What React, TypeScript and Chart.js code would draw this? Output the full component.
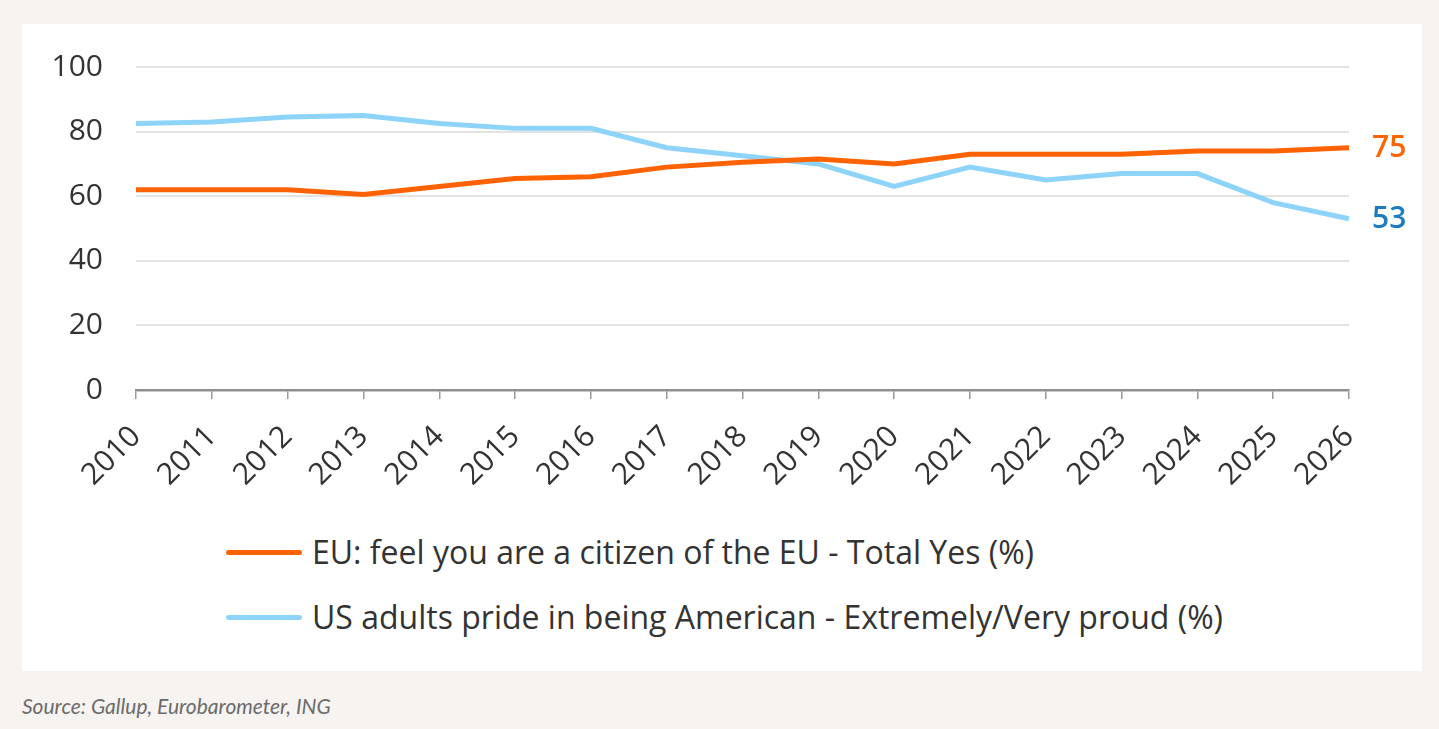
import React, { useEffect, useRef } from "react";
import { Chart, registerables } from "chart.js";

Chart.register(...registerables);

const years = ["2010","2011","2012","2013","2014","2015","2016","2017","2018","2019","2020","2021","2022","2023","2024","2025","2026"];
const euCitizen = [62, 62, 62, 60.5, 63, 65.5, 66, 69, 70.5, 71.5, 70, 73, 73, 73, 74, 74, 75];
const usPride = [82.5, 83, 84.5, 85, 82.5, 81, 81, 75, 72.5, 70, 63, 69, 65, 67, 67, 58, 53];
const yTicks = [0, 20, 40, 60, 80, 100];
const euLabel = "EU: feel you are a citizen of the EU - Total Yes (%)";
const usLabel = "US adults pride in being American - Extremely/Very proud (%)";
const sourceText = "Source: Gallup, Eurobarometer, ING";

const ORANGE = "#FF6200";
const LIGHTBLUE = "#8DD3FA";
const DARKBLUE = "#1B7CBF";
const FONT = "'Open Sans', Lato, sans-serif";
const SRC_FONT = "Lato, 'Open Sans', sans-serif";

const endLabels = {
  id: "endLabels",
  afterDatasetsDraw(chart: any) {
    const { ctx } = chart;
    const xs = chart.scales.x;
    const ys = chart.scales.y;
    const colors = [ORANGE, DARKBLUE];
    chart.data.datasets.forEach((ds: any, i: number) => {
      const last = ds.data.length - 1;
      const v = ds.data[last];
      const x = xs.getPixelForValue(last) + 23;
      const y = ys.getPixelForValue(v);
      ctx.save();
      ctx.font = `600 30px ${FONT}`;
      ctx.fillStyle = colors[i];
      ctx.textAlign = "left";
      ctx.textBaseline = "middle";
      ctx.fillText(String(v), x, y + 1);
      ctx.restore();
    });
  },
};

export default function App() {
  const ref = useRef<HTMLCanvasElement | null>(null);
  useEffect(() => {
    if (!ref.current) return;
    const chart = new Chart(ref.current, {
      type: "line",
      data: {
        labels: years,
        datasets: [
          { label: euLabel, data: euCitizen, borderColor: ORANGE, backgroundColor: ORANGE, borderWidth: 5, pointRadius: 0, tension: 0 },
          { label: usLabel, data: usPride, borderColor: LIGHTBLUE, backgroundColor: LIGHTBLUE, borderWidth: 5, pointRadius: 0, tension: 0 },
        ],
      },
      options: {
        animation: false,
        responsive: false,
        devicePixelRatio: 1,
        layout: { padding: { top: 43, right: 73, left: 0, bottom: 0 } },
        plugins: { legend: { display: false }, tooltip: { enabled: false } },
        scales: {
          x: {
            offset: false,
            grid: { drawOnChartArea: false, drawTicks: true, tickLength: 9, color: "#9a9a9a", lineWidth: 1.5 },
            border: { display: true, color: "#8f8f8f", width: 2.5 },
            ticks: {
              autoSkip: false,
              minRotation: 45,
              maxRotation: 45,
              padding: 20,
              color: "#333333",
              font: { family: FONT, size: 30 },
            },
            afterFit: (s: any) => { s.height = 124; },
          },
          y: {
            min: 0,
            max: 100,
            afterBuildTicks: (s: any) => { s.ticks = yTicks.map((v) => ({ value: v })); },
            grid: { drawTicks: true, tickLength: 33, tickColor: "rgba(0,0,0,0)", color: "#e3e3e3", lineWidth: 2 },
            border: { display: false },
            ticks: { padding: 0, color: "#333333", font: { family: FONT, size: 30 } },
            afterFit: (s: any) => { s.width = 114; },
          },
        },
      },
      plugins: [endLabels],
    });
    return () => chart.destroy();
  }, []);

  const legendRow = (color: string, text: string, top: number) => (
    <div style={{ position: "absolute", left: 204, top, height: 40, display: "flex", alignItems: "center" }}>
      <div style={{ width: 76, height: 5, borderRadius: 3, background: color }} />
      <div style={{ marginLeft: 10, fontFamily: FONT, fontSize: 32, color: "#333333", whiteSpace: "nowrap", lineHeight: "40px" }}>{text}</div>
    </div>
  );

  return (
    <div style={{ position: "fixed", left: 0, top: 0, width: 1439, height: 729, background: "#F6F3F0", overflow: "hidden" }}>
      <div style={{ position: "absolute", left: 22, top: 24, width: 1400, height: 647, background: "#FFFFFF" }}>
        <canvas ref={ref} width={1400} height={490} style={{ position: "absolute", left: 0, top: 0, width: 1400, height: 490 }} />
        {legendRow(ORANGE, euLabel, 508)}
        {legendRow(LIGHTBLUE, usLabel, 573)}
      </div>
      <div style={{ position: "absolute", left: 22, top: 692, fontFamily: SRC_FONT, fontStyle: "italic", fontSize: 21, color: "#6b6b6b", whiteSpace: "nowrap", lineHeight: "28px" }}>{sourceText}</div>
    </div>
  );
}
